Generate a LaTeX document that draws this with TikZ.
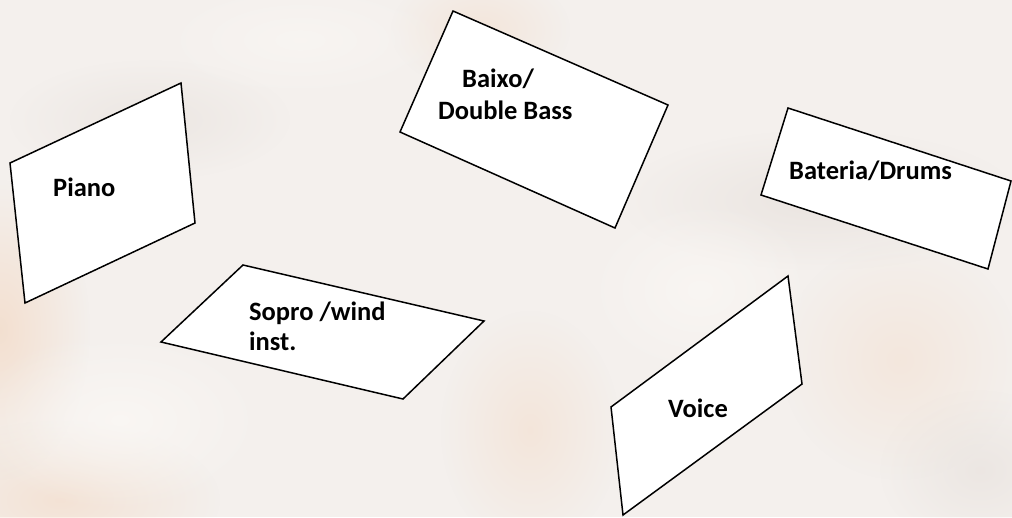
\documentclass[tikz,border=0pt]{standalone}
\usepackage{fontspec}
\setmainfont{Carlito}
\usetikzlibrary{fadings}
\tikzfading[name=softblob, inner color=transparent!0, outer color=transparent!100]
\definecolor{bgbase}{HTML}{F4F0ED}
\definecolor{peach}{HTML}{F2D2B8}
\definecolor{warmgray}{HTML}{E4DDD8}
\definecolor{lightbg}{HTML}{FBF8F5}
\begin{document}
\begin{tikzpicture}[x=1pt,y=-1pt,
  card/.style={draw=black, fill=white, line width=1.5pt, line join=miter},
  lbl/.style={anchor=base west, inner sep=0pt, font=\fontsize{26.5}{32}\selectfont\bfseries, text=black, align=left}]
\useasboundingbox (0,0) rectangle (1012,517);
% background
\fill[bgbase] (0,0) rectangle (1012,517);
\fill[peach, opacity=0.55, path fading=softblob] (0,330) ellipse (90 and 150);
\fill[peach, opacity=0.45, path fading=softblob] (60,500) ellipse (160 and 80);
\fill[peach, opacity=0.35, path fading=softblob] (530,430) ellipse (90 and 120);
\fill[peach, opacity=0.35, path fading=softblob] (480,30) ellipse (90 and 60);
\fill[peach, opacity=0.30, path fading=softblob] (900,360) ellipse (120 and 120);
\fill[warmgray, opacity=0.6, path fading=softblob] (820,200) ellipse (200 and 70);
\fill[warmgray, opacity=0.5, path fading=softblob] (980,470) ellipse (100 and 80);
\fill[warmgray, opacity=0.5, path fading=softblob] (150,120) ellipse (140 and 60);
\fill[lightbg, opacity=0.8, path fading=softblob] (120,420) ellipse (150 and 90);
\fill[lightbg, opacity=0.7, path fading=softblob] (700,290) ellipse (120 and 90);
\fill[lightbg, opacity=0.6, path fading=softblob] (300,40) ellipse (150 and 60);
% cards
\draw[card] (10,163) -- (181,83) -- (195,223) -- (25,303) -- cycle;
\draw[card] (453,11) -- (668,105) -- (615,228) -- (400,132) -- cycle;
\draw[card] (788,108) -- (1011,181) -- (988,269) -- (761,195) -- cycle;
\draw[card] (243,265) -- (484,321) -- (403,399) -- (161,342) -- cycle;
\draw[card] (788,276) -- (802,384) -- (623,515) -- (611,407) -- cycle;
% labels
\node[lbl] (piano) at (53,196) {Piano};
\node[lbl] (baixo) at (462,87) {Baixo/};
\node[lbl] (bass) at (438,119) {Double Bass};
\node[lbl] (drums) at (789,179) {Bateria/Drums};
\node[lbl] (sopro) at (249,320) {Sopro /wind};
\node[lbl] (inst) at (249,350) {inst.};
\node[lbl] (voice) at (668,417) {Voice};
\end{tikzpicture}
\end{document}
